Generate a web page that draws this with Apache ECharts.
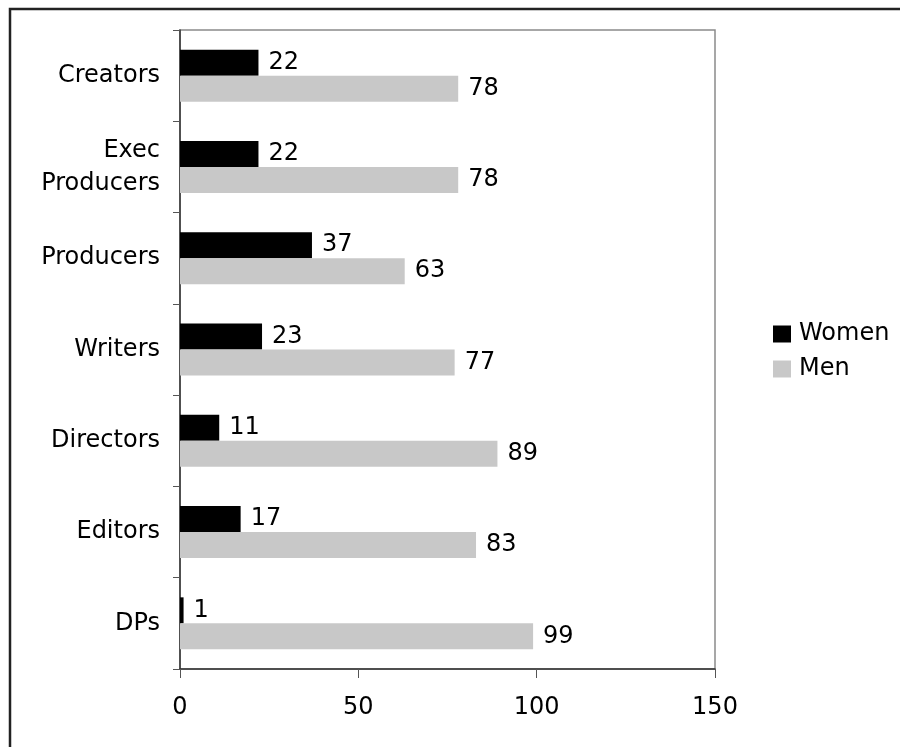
<!DOCTYPE html>
<html>
<head>
<meta charset="utf-8">
<script src="https://cdn.jsdelivr.net/npm/echarts@6/dist/echarts.min.js"></script>
<style>
	html, body { margin: 0; padding: 0; background: #fff; }
	#chart_1 { width: 900px; height: 747px; }
</style>
</head>
<body>
<div id="chart_1"></div>
<script>
var categories = ['Creators', 'Exec\nProducers', 'Producers', 'Writers', 'Directors', 'Editors', 'DPs'];
var women = [22, 22, 37, 23, 11, 17, 1];
var men = [78, 78, 63, 77, 89, 83, 99];
var xTicks = [0, 50, 100, 150];

var font = 'DejaVu Sans';

function makeChart() {
	var myChart = echarts.init(document.getElementById('chart_1'));
	var labelStyle = {
		show: true,
		position: 'right',
		distance: 10,
		color: '#000',
		fontFamily: font,
		fontSize: 24
	};
	var option = {
		backgroundColor: '#fff',
		animation: false,
		graphic: [{
			type: 'rect',
			shape: { x: 10, y: 9, width: 900, height: 760 },
			style: { fill: 'none', stroke: '#222', lineWidth: 2.5 },
			silent: true
		}],
		legend: {
			orient: 'vertical',
			left: 768,
			top: 317,
			itemWidth: 18,
			itemHeight: 17,
			itemGap: 11,
			icon: 'rect',
			textStyle: { fontFamily: font, fontSize: 24, color: '#000', padding: [0, 0, 0, 3] },
			data: ['Women', 'Men']
		},
		grid: {
			left: 180,
			top: 30,
			right: 185,
			bottom: 78,
			show: true,
			borderColor: '#8a8a8a',
			borderWidth: 1.5
		},
		xAxis: {
			type: 'value',
			min: xTicks[0],
			max: xTicks[xTicks.length - 1],
			interval: 50,
			splitLine: { show: false },
			axisLine: { show: true, lineStyle: { color: '#333', width: 1.5 } },
			axisTick: { show: true, length: 9, lineStyle: { color: '#555' } },
			axisLabel: { margin: 27, color: '#000', fontFamily: font, fontSize: 24 }
		},
		yAxis: {
			type: 'category',
			inverse: true,
			data: categories,
			axisLine: { show: true, lineStyle: { color: '#333', width: 1.5 } },
			axisTick: { show: true, length: 7, lineStyle: { color: '#555' } },
			axisLabel: { margin: 20, color: '#000', fontFamily: font, fontSize: 24, lineHeight: 33, align: 'right' }
		},
		series: [{
			name: 'Women',
			type: 'bar',
			data: women,
			barGap: '0%',
			barCategoryGap: '43%',
			itemStyle: { color: '#000' },
			label: labelStyle
		}, {
			name: 'Men',
			type: 'bar',
			data: men,
			barGap: '0%',
			barCategoryGap: '43%',
			itemStyle: { color: '#c8c8c8' },
			label: labelStyle
		}]
	};
	myChart.setOption(option);
}
makeChart();
</script>
</body>
</html>
